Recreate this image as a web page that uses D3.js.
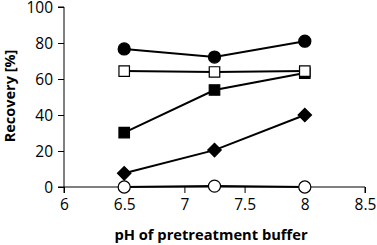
<!DOCTYPE html>
<html>
<head>
<meta charset="utf-8">
<script src="https://cdn.jsdelivr.net/npm/d3@7"></script>
<style>
  body { margin: 0; background: #fff; }
  text { font-family: "Open Sans", sans-serif; }
</style>
</head>
<body>
<div id="chart"></div>
<script>
const phValues = [6.5, 7.25, 8];
const filledSquare = [30.2, 53.9, 63.3];
const filledDiamond = [7.6, 20.5, 40];
const openCircle = [0, 0.5, 0];
const filledCircle = [76.7, 72.2, 81];
const openSquare = [64.4, 63.9, 64.4];
const xTicks = [6, 6.5, 7, 7.5, 8, 8.5];
const yTicks = [0, 20, 40, 60, 80, 100];

const width = 377, height = 245;
const svg = d3.select("#chart").append("svg")
    .attr("width", width).attr("height", height);

const x = d3.scaleLinear().domain([6, 8.5]).range([64, 365]);
const y = d3.scaleLinear().domain([0, 100]).range([187, 7]);

// axes
const yAxis = svg.append("g").attr("transform", "translate(64,0)")
    .call(d3.axisLeft(y).tickValues(yTicks).tickSize(6).tickPadding(5));
const xAxis = svg.append("g").attr("transform", "translate(0,187)")
    .call(d3.axisBottom(x).tickValues(xTicks).tickSize(6).tickPadding(6)
        .tickFormat(d3.format("")));
[yAxis, xAxis].forEach(a => {
    a.select(".domain").attr("stroke", "#000").attr("stroke-width", 1);
    a.selectAll(".tick line").attr("stroke", "#000");
    a.selectAll("text").attr("font-size", 15.5).attr("fill", "#000");
});
yAxis.select(".domain").attr("d", "M-6,187H0V7H-6");
xAxis.select(".domain").attr("d", "M64,6V0H365V6");
yAxis.selectAll(".tick text").attr("dy", "0.36em");

const series = [
    { vals: openCircle, shape: "circle", fill: "#fff" },
    { vals: filledDiamond, shape: "diamond", fill: "#000" },
    { vals: filledSquare, shape: "square", fill: "#000" },
    { vals: openSquare, shape: "square", fill: "#fff" },
    { vals: filledCircle, shape: "circle", fill: "#000" }
];

const line = d3.line().x((d, i) => x(phValues[i])).y(d => y(d));
const symbols = {
    circle: d3.symbol().type(d3.symbolCircle).size(115),
    square: d3.symbol().type(d3.symbolSquare).size(110),
    diamond: d3.symbol().type(d3.symbolSquare).size(90)
};

series.forEach(s => {
    svg.append("path").datum(s.vals)
        .attr("d", line)
        .attr("fill", "none")
        .attr("stroke", "#000")
        .attr("stroke-width", 2);
    svg.append("g").selectAll("path")
        .data(s.vals)
        .join("path")
        .attr("transform", (d, i) => `translate(${x(phValues[i])},${y(d)})` +
            (s.shape === "diamond" ? " rotate(45)" : ""))
        .attr("d", symbols[s.shape])
        .attr("fill", s.fill)
        .attr("stroke", "#000")
        .attr("stroke-width", 1.2);
});

svg.append("text")
    .attr("transform", "translate(15,96) rotate(-90)")
    .attr("text-anchor", "middle")
    .attr("font-family", "'Liberation Sans', Arial, sans-serif")
    .attr("font-size", 14.5).attr("font-weight", "bold")
    .text("Recovery [%]");

svg.append("text")
    .attr("x", 211).attr("y", 240)
    .attr("text-anchor", "middle")
    .attr("font-size", 14.7).attr("font-weight", "bold")
    .text("pH of pretreatment buffer");
</script>
</body>
</html>
